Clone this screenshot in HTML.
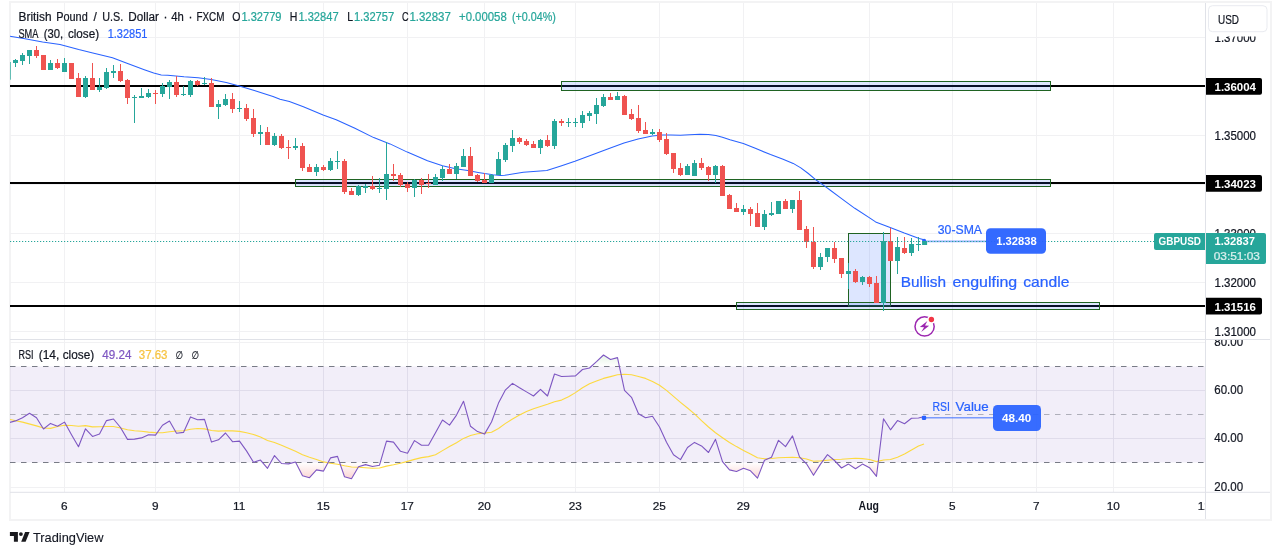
<!DOCTYPE html><html><head><meta charset="utf-8"><title>GBPUSD 4h chart</title><style>html,body{margin:0;padding:0;background:#fff}body{width:1281px;height:555px;overflow:hidden}svg{display:block}</style></head><body><svg width="1281" height="555" viewBox="0 0 1281 555" font-family='"Liberation Sans", Arial, sans-serif'>
<defs>
<clipPath id="cpMain"><rect x="10" y="3" width="1195" height="336"/></clipPath>
<clipPath id="cpRsi"><rect x="10" y="340" width="1195" height="152"/></clipPath>
<clipPath id="cpRsiAx"><rect x="1206" y="340" width="64" height="152"/></clipPath>
<clipPath id="cpTime"><rect x="10" y="493" width="1195" height="26"/></clipPath>
<linearGradient id="gOS" gradientUnits="userSpaceOnUse" x1="0" y1="462.5" x2="0" y2="482"><stop offset="0" stop-color="#ef5350" stop-opacity="0"/><stop offset="1" stop-color="#ef5350" stop-opacity="0.3"/></linearGradient>
<linearGradient id="gOB" gradientUnits="userSpaceOnUse" x1="0" y1="352" x2="0" y2="366.5"><stop offset="0" stop-color="#4caf50" stop-opacity="0.18"/><stop offset="1" stop-color="#4caf50" stop-opacity="0"/></linearGradient>
</defs>
<rect width="1281" height="555" fill="#fff"/>
<rect x="10" y="2" width="1261" height="518" fill="#fff" stroke="#f3f3f4" stroke-width="2"/>
<line x1="64.5" y1="3" x2="64.5" y2="492" stroke="#f1f1f3" stroke-width="1"/>
<line x1="155.5" y1="3" x2="155.5" y2="492" stroke="#f1f1f3" stroke-width="1"/>
<line x1="239.5" y1="3" x2="239.5" y2="492" stroke="#f1f1f3" stroke-width="1"/>
<line x1="323.5" y1="3" x2="323.5" y2="492" stroke="#f1f1f3" stroke-width="1"/>
<line x1="407.5" y1="3" x2="407.5" y2="492" stroke="#f1f1f3" stroke-width="1"/>
<line x1="484.5" y1="3" x2="484.5" y2="492" stroke="#f1f1f3" stroke-width="1"/>
<line x1="575.5" y1="3" x2="575.5" y2="492" stroke="#f1f1f3" stroke-width="1"/>
<line x1="659.5" y1="3" x2="659.5" y2="492" stroke="#f1f1f3" stroke-width="1"/>
<line x1="743.5" y1="3" x2="743.5" y2="492" stroke="#f1f1f3" stroke-width="1"/>
<line x1="869.5" y1="3" x2="869.5" y2="492" stroke="#f1f1f3" stroke-width="1"/>
<line x1="952.5" y1="3" x2="952.5" y2="492" stroke="#f1f1f3" stroke-width="1"/>
<line x1="1036.5" y1="3" x2="1036.5" y2="492" stroke="#f1f1f3" stroke-width="1"/>
<line x1="1113.5" y1="3" x2="1113.5" y2="492" stroke="#f1f1f3" stroke-width="1"/>
<line x1="10" y1="37.5" x2="1205" y2="37.5" stroke="#f1f1f3" stroke-width="1"/>
<line x1="10" y1="86.5" x2="1205" y2="86.5" stroke="#f1f1f3" stroke-width="1"/>
<line x1="10" y1="135.5" x2="1205" y2="135.5" stroke="#f1f1f3" stroke-width="1"/>
<line x1="10" y1="184.5" x2="1205" y2="184.5" stroke="#f1f1f3" stroke-width="1"/>
<line x1="10" y1="233.5" x2="1205" y2="233.5" stroke="#f1f1f3" stroke-width="1"/>
<line x1="10" y1="282.5" x2="1205" y2="282.5" stroke="#f1f1f3" stroke-width="1"/>
<line x1="10" y1="331.5" x2="1205" y2="331.5" stroke="#f1f1f3" stroke-width="1"/>
<line x1="10" y1="342.5" x2="1205" y2="342.5" stroke="#f1f1f3" stroke-width="1"/>
<line x1="10" y1="390.5" x2="1205" y2="390.5" stroke="#f1f1f3" stroke-width="1"/>
<line x1="10" y1="438.5" x2="1205" y2="438.5" stroke="#f1f1f3" stroke-width="1"/>
<line x1="10" y1="487.5" x2="1205" y2="487.5" stroke="#f1f1f3" stroke-width="1"/>
<g clip-path="url(#cpRsi)">
<rect x="10" y="366.5" width="1195" height="96.0" fill="#7e57c2" fill-opacity="0.1"/>
<line x1="64.5" y1="366.5" x2="64.5" y2="462.5" stroke="#d9d6e6" stroke-opacity="0.45" stroke-width="1"/>
<line x1="155.5" y1="366.5" x2="155.5" y2="462.5" stroke="#d9d6e6" stroke-opacity="0.45" stroke-width="1"/>
<line x1="239.5" y1="366.5" x2="239.5" y2="462.5" stroke="#d9d6e6" stroke-opacity="0.45" stroke-width="1"/>
<line x1="323.5" y1="366.5" x2="323.5" y2="462.5" stroke="#d9d6e6" stroke-opacity="0.45" stroke-width="1"/>
<line x1="407.5" y1="366.5" x2="407.5" y2="462.5" stroke="#d9d6e6" stroke-opacity="0.45" stroke-width="1"/>
<line x1="484.5" y1="366.5" x2="484.5" y2="462.5" stroke="#d9d6e6" stroke-opacity="0.45" stroke-width="1"/>
<line x1="575.5" y1="366.5" x2="575.5" y2="462.5" stroke="#d9d6e6" stroke-opacity="0.45" stroke-width="1"/>
<line x1="659.5" y1="366.5" x2="659.5" y2="462.5" stroke="#d9d6e6" stroke-opacity="0.45" stroke-width="1"/>
<line x1="743.5" y1="366.5" x2="743.5" y2="462.5" stroke="#d9d6e6" stroke-opacity="0.45" stroke-width="1"/>
<line x1="869.5" y1="366.5" x2="869.5" y2="462.5" stroke="#d9d6e6" stroke-opacity="0.45" stroke-width="1"/>
<line x1="952.5" y1="366.5" x2="952.5" y2="462.5" stroke="#d9d6e6" stroke-opacity="0.45" stroke-width="1"/>
<line x1="1036.5" y1="366.5" x2="1036.5" y2="462.5" stroke="#d9d6e6" stroke-opacity="0.45" stroke-width="1"/>
<line x1="1113.5" y1="366.5" x2="1113.5" y2="462.5" stroke="#d9d6e6" stroke-opacity="0.45" stroke-width="1"/>
<line x1="10" y1="390.5" x2="1205" y2="390.5" stroke="#d9d6e6" stroke-opacity="0.45" stroke-width="1"/>
<line x1="10" y1="438.5" x2="1205" y2="438.5" stroke="#d9d6e6" stroke-opacity="0.45" stroke-width="1"/>
<polygon points="262.5,462.5 267.5,468.3 270.7,462.5" fill="url(#gOS)"/>
<polygon points="280.6,462.5 281.5,463.5 288.5,463.9 293.7,462.5" fill="url(#gOS)"/>
<polygon points="295.8,462.5 302.5,475.8 309.5,477.7 316.5,469.9 323.5,471.1 328.1,462.5" fill="url(#gOS)"/>
<polygon points="339.6,462.5 344.5,476.8 351.5,478.7 358.5,466.7 365.5,464.6 372.5,466.5 379.5,465.2 380.3,462.5" fill="url(#gOS)"/>
<polygon points="723.2,462.5 729.5,469.9 736.5,471.5 743.5,468.3 750.5,470.8 757.5,478.1 763.6,462.5" fill="url(#gOS)"/>
<polygon points="805.2,462.5 806.5,463.8 813.5,475.3 820.5,464.1 821.7,462.5" fill="url(#gOS)"/>
<polygon points="836.4,462.5 841.5,468.0 848.5,464.1 855.5,468.8 862.5,464.1 869.5,467.7 876.5,476.3 878.2,462.5" fill="url(#gOS)"/>
<polygon points="591.2,366.5 596.5,361.7 603.5,355.0 610.5,359.5 617.5,357.6 619.4,366.5" fill="url(#gOB)"/>
<line x1="10" y1="366.5" x2="1205" y2="366.5" stroke="#787b86" stroke-width="1" stroke-dasharray="5.5 5.5"/>
<line x1="10" y1="414.5" x2="1205" y2="414.5" stroke="#787b86" stroke-opacity="0.55" stroke-width="1" stroke-dasharray="5.5 5.5"/>
<line x1="10" y1="462.5" x2="1205" y2="462.5" stroke="#787b86" stroke-width="1" stroke-dasharray="5.5 5.5"/>
<polyline fill="none" stroke="#fdd835" stroke-opacity="0.95" stroke-width="1.1" stroke-linejoin="round" points="8.5,419.2 22.5,422.1 36.5,425.9 43.5,428 50.5,428.4 57.5,426.5 64.5,425.3 71.5,425.5 78.5,426.3 85.5,425.6 92.5,426.9 99.5,426.8 106.5,426.5 113.5,426.5 120.5,428 127.5,429.7 134.5,430.7 141.5,431.3 148.5,432.1 155.5,432.6 162.5,432.8 169.5,431.8 176.5,431 183.5,430.8 190.5,429.2 197.5,428.5 204.5,428.9 211.5,430.5 218.5,431.1 225.5,430.8 232.5,430.9 239.5,431.4 246.5,432.7 253.5,434.5 260.5,437.1 267.5,440.5 274.5,442.5 281.5,445.3 288.5,448.2 295.5,451.3 302.5,454.7 309.5,457.2 316.5,459.4 323.5,461.9 330.5,463.3 337.5,464.2 344.5,465.8 351.5,467 358.5,467.3 365.5,467.7 372.5,468.3 379.5,468 386.5,466.1 393.5,464.8 400.5,463.3 407.5,461.4 414.5,459.4 421.5,457.6 428.5,456.6 435.5,454.7 442.5,450.6 449.5,446.6 456.5,442.7 463.5,438.4 470.5,435.5 477.5,433.8 484.5,433.1 491.5,432.2 498.5,428.5 505.5,423.4 512.5,419 519.5,415 526.5,411.4 533.5,408.7 540.5,406.4 547.5,404.2 554.5,401.7 561.5,400.1 568.5,396.7 575.5,392.6 582.5,387.8 589.5,383.8 596.5,380.9 603.5,378.4 610.5,376.6 617.5,374.8 624.5,374.3 631.5,374.8 638.5,376.5 645.5,378.4 652.5,381.5 659.5,385.3 666.5,390.4 673.5,396.4 680.5,402.3 687.5,408 694.5,413.8 701.5,420.7 708.5,427 715.5,432.7 722.5,437.7 729.5,442.5 736.5,446.6 743.5,450.4 750.5,454.1 757.5,457.7 764.5,458.8 771.5,458.5 778.5,457.7 785.5,457.5 792.5,457.3 799.5,457.8 806.5,459 813.5,461.2 820.5,460.9 827.5,460.2 834.5,459.5 841.5,459.3 848.5,458.7 855.5,458.3 862.5,458.6 869.5,459.5 876.5,461.6 883.5,460 890.5,459.5 897.5,457.2 904.5,454 911.5,450 918.5,446.1 924,443.9"/>
<polyline fill="none" stroke="#7e57c2" stroke-width="1.1" stroke-linejoin="round" points="8.5,422.7 15.5,420.9 22.5,417.7 29.5,413.3 36.5,417.7 43.5,429.0 50.5,423.4 57.5,426.3 64.5,422.1 71.5,434.7 78.5,446.7 85.5,428.8 92.5,436.4 99.5,434.1 106.5,420.6 113.5,419.0 120.5,427.5 127.5,439.4 134.5,439.1 141.5,437.9 148.5,434.7 155.5,435.1 162.5,425.2 169.5,421.0 176.5,433.3 183.5,432.4 190.5,416.9 197.5,419.8 204.5,419.4 211.5,442.1 218.5,439.8 225.5,433.0 232.5,441.7 239.5,441.1 246.5,450.9 253.5,462.3 260.5,460.1 267.5,468.3 274.5,455.6 281.5,463.5 288.5,463.9 295.5,462.0 302.5,475.8 309.5,477.7 316.5,469.9 323.5,471.1 330.5,457.9 337.5,456.4 344.5,476.8 351.5,478.7 358.5,466.7 365.5,464.6 372.5,466.5 379.5,465.2 386.5,441.1 393.5,442.1 400.5,451.3 407.5,453.2 414.5,440.6 421.5,445.3 428.5,445.3 435.5,432.7 442.5,420.0 449.5,425.1 456.5,415.1 463.5,401.2 470.5,426.3 477.5,431.6 484.5,434.1 491.5,422.0 498.5,403.1 505.5,389.8 512.5,383.4 519.5,387.8 526.5,391.9 533.5,396.0 540.5,389.3 547.5,396.0 554.5,374.0 561.5,376.5 568.5,376.2 575.5,375.9 582.5,369.5 589.5,368.0 596.5,361.7 603.5,355.0 610.5,359.5 617.5,357.6 624.5,390.4 631.5,397.3 638.5,413.7 645.5,417.7 652.5,416.3 659.5,427.0 666.5,442.2 673.5,454.8 680.5,459.6 687.5,447.5 694.5,442.4 701.5,445.9 708.5,452.5 715.5,439.3 722.5,461.7 729.5,469.9 736.5,471.5 743.5,468.3 750.5,470.8 757.5,478.1 764.5,460.2 771.5,457.3 778.5,440.3 785.5,446.6 792.5,435.9 799.5,456.8 806.5,463.8 813.5,475.3 820.5,464.1 827.5,454.7 834.5,460.5 841.5,468.0 848.5,464.1 855.5,468.8 862.5,464.1 869.5,467.7 876.5,476.3 883.5,418.7 890.5,429.8 897.5,420.6 904.5,423.7 911.5,418.3 918.5,418.0 925.5,416.3"/>
</g>
<g clip-path="url(#cpMain)">
<line x1="10" y1="86" x2="1206" y2="86" stroke="#000" stroke-width="2"/>
<line x1="10" y1="183" x2="1206" y2="183" stroke="#000" stroke-width="2"/>
<line x1="10" y1="306" x2="1206" y2="306" stroke="#000" stroke-width="2"/>
<rect x="848.5" y="233.5" width="42.0" height="72.5" fill="#2962ff" fill-opacity="0.16" stroke="#1f6322" stroke-width="1"/>
<rect x="561.5" y="81.5" width="489.0" height="9.0" fill="#2962ff" fill-opacity="0.16" stroke="#1f6322" stroke-width="1"/>
<rect x="295.5" y="179.5" width="755.0" height="7.0" fill="#2962ff" fill-opacity="0.16" stroke="#1f6322" stroke-width="1"/>
<rect x="736.5" y="302.5" width="363.0" height="7.0" fill="#2962ff" fill-opacity="0.16" stroke="#1f6322" stroke-width="1"/>
<polyline fill="none" stroke="#2962ff" stroke-width="1.05" stroke-linejoin="round" points="10,36.3 25,38.8 42.6,42.1 60,44.5 78.7,49.6 92.8,52.9 112.5,57.7 125.6,62.7 144.3,69.7 153.7,73 161.2,74.9 167.7,75.2 184,76.8 198.1,77.7 211.2,79.6 226.2,82.4 239.3,85.9 254.3,90.5 273,96.4 280,99.2 289.4,101.6 303.4,106.7 323.1,115.1 336.2,119.8 354.9,128.3 373.7,137.6 390,143.9 407.3,152.1 427.5,160.8 442.5,165.7 455.6,168.7 467.8,170.6 478.1,172.5 484.6,173.6 493,174.8 500.5,175.4 504.7,175.3 523.4,172.3 546.8,170.4 560.9,165.9 574.9,161.2 593.7,154.2 607.7,148.9 624,142.9 638.1,138.9 652.2,136.1 662.5,135 670.9,135.1 680.3,135.3 689.6,134.7 699.9,134.2 708.4,134.5 715.9,135.4 722.4,137.3 730,139.8 743.3,143.6 755.3,148.3 770.5,154.6 783.1,159.3 793.2,163.4 800.8,167.9 808.3,173.5 815.9,179.8 824.7,186.2 830,190 839.9,197.4 854.8,208.3 869.6,217.9 875.6,221.9 889.5,227.2 904.3,233.1 919.2,238.6 924,239.8"/>
<line x1="924" y1="241.3" x2="987" y2="241.3" stroke="#2962ff" stroke-opacity="0.5" stroke-width="1.8"/>
<circle cx="924.1" cy="240.9" r="2.1" fill="#2962ff"/>
<rect x="15.0" y="59.0" width="1" height="8.0" fill="#26a69a"/>
<rect x="13.0" y="60.0" width="5" height="3.0" fill="#26a69a"/>
<rect x="22.0" y="53.0" width="1" height="12.0" fill="#26a69a"/>
<rect x="20.0" y="55.0" width="5" height="6.0" fill="#26a69a"/>
<rect x="29.0" y="50.0" width="1" height="14.0" fill="#26a69a"/>
<rect x="27.0" y="50.0" width="5" height="6.0" fill="#26a69a"/>
<rect x="36.0" y="46.0" width="1" height="12.0" fill="#ef5350"/>
<rect x="34.0" y="50.0" width="5" height="6.0" fill="#ef5350"/>
<rect x="43.0" y="55.0" width="1" height="15.0" fill="#ef5350"/>
<rect x="41.0" y="55.0" width="5" height="15.0" fill="#ef5350"/>
<rect x="50.0" y="60.0" width="1" height="10.0" fill="#26a69a"/>
<rect x="48.0" y="63.0" width="5" height="7.0" fill="#26a69a"/>
<rect x="57.0" y="59.0" width="1" height="10.0" fill="#ef5350"/>
<rect x="55.0" y="63.0" width="5" height="5.0" fill="#ef5350"/>
<rect x="64.0" y="58.0" width="1" height="14.0" fill="#26a69a"/>
<rect x="62.0" y="63.0" width="5" height="9.0" fill="#26a69a"/>
<rect x="71.0" y="63.0" width="1" height="16.0" fill="#ef5350"/>
<rect x="69.0" y="63.0" width="5" height="16.0" fill="#ef5350"/>
<rect x="78.0" y="73.0" width="1" height="24.0" fill="#ef5350"/>
<rect x="76.0" y="78.0" width="5" height="19.0" fill="#ef5350"/>
<rect x="85.0" y="76.0" width="1" height="22.0" fill="#26a69a"/>
<rect x="83.0" y="78.0" width="5" height="19.0" fill="#26a69a"/>
<rect x="92.0" y="63.0" width="1" height="27.0" fill="#ef5350"/>
<rect x="90.0" y="78.0" width="5" height="12.0" fill="#ef5350"/>
<rect x="99.0" y="78.0" width="1" height="14.0" fill="#26a69a"/>
<rect x="97.0" y="87.0" width="5" height="3.0" fill="#26a69a"/>
<rect x="106.0" y="68.0" width="1" height="21.0" fill="#26a69a"/>
<rect x="104.0" y="72.0" width="5" height="16.0" fill="#26a69a"/>
<rect x="113.0" y="65.0" width="1" height="13.0" fill="#26a69a"/>
<rect x="111.0" y="71.0" width="5" height="2.0" fill="#26a69a"/>
<rect x="120.0" y="64.0" width="1" height="18.0" fill="#ef5350"/>
<rect x="118.0" y="71.0" width="5" height="10.0" fill="#ef5350"/>
<rect x="127.0" y="79.0" width="1" height="25.0" fill="#ef5350"/>
<rect x="125.0" y="80.0" width="5" height="18.0" fill="#ef5350"/>
<rect x="134.0" y="95.0" width="1" height="28.0" fill="#26a69a"/>
<rect x="132.0" y="97.0" width="5" height="1.0" fill="#26a69a"/>
<rect x="141.0" y="88.0" width="1" height="10.0" fill="#26a69a"/>
<rect x="139.0" y="96.0" width="5" height="2.0" fill="#26a69a"/>
<rect x="148.0" y="89.0" width="1" height="9.0" fill="#26a69a"/>
<rect x="146.0" y="93.0" width="5" height="4.0" fill="#26a69a"/>
<rect x="155.0" y="90.0" width="1" height="14.0" fill="#ef5350"/>
<rect x="153.0" y="93.0" width="5" height="1.0" fill="#ef5350"/>
<rect x="162.0" y="83.0" width="1" height="14.0" fill="#26a69a"/>
<rect x="160.0" y="86.0" width="5" height="8.0" fill="#26a69a"/>
<rect x="169.0" y="80.0" width="1" height="19.0" fill="#26a69a"/>
<rect x="167.0" y="82.0" width="5" height="5.0" fill="#26a69a"/>
<rect x="176.0" y="76.0" width="1" height="21.0" fill="#ef5350"/>
<rect x="174.0" y="82.0" width="5" height="13.0" fill="#ef5350"/>
<rect x="183.0" y="86.0" width="1" height="10.0" fill="#26a69a"/>
<rect x="181.0" y="94.0" width="5" height="1.0" fill="#26a69a"/>
<rect x="190.0" y="80.0" width="1" height="17.0" fill="#26a69a"/>
<rect x="188.0" y="81.0" width="5" height="14.0" fill="#26a69a"/>
<rect x="197.0" y="80.0" width="1" height="6.0" fill="#ef5350"/>
<rect x="195.0" y="81.0" width="5" height="4.0" fill="#ef5350"/>
<rect x="204.0" y="77.0" width="1" height="8.0" fill="#26a69a"/>
<rect x="202.0" y="83.0" width="5" height="1.0" fill="#26a69a"/>
<rect x="211.0" y="78.0" width="1" height="29.0" fill="#ef5350"/>
<rect x="209.0" y="83.0" width="5" height="24.0" fill="#ef5350"/>
<rect x="218.0" y="100.0" width="1" height="19.0" fill="#26a69a"/>
<rect x="216.0" y="104.0" width="5" height="3.0" fill="#26a69a"/>
<rect x="225.0" y="94.0" width="1" height="12.0" fill="#26a69a"/>
<rect x="223.0" y="99.0" width="5" height="6.0" fill="#26a69a"/>
<rect x="232.0" y="93.0" width="1" height="20.0" fill="#ef5350"/>
<rect x="230.0" y="99.0" width="5" height="10.0" fill="#ef5350"/>
<rect x="239.0" y="101.0" width="1" height="11.0" fill="#26a69a"/>
<rect x="237.0" y="108.0" width="5" height="1.0" fill="#26a69a"/>
<rect x="246.0" y="104.0" width="1" height="17.0" fill="#ef5350"/>
<rect x="244.0" y="108.0" width="5" height="11.0" fill="#ef5350"/>
<rect x="253.0" y="109.0" width="1" height="28.0" fill="#ef5350"/>
<rect x="251.0" y="118.0" width="5" height="16.0" fill="#ef5350"/>
<rect x="260.0" y="125.0" width="1" height="20.0" fill="#26a69a"/>
<rect x="258.0" y="132.0" width="5" height="2.0" fill="#26a69a"/>
<rect x="267.0" y="127.0" width="1" height="18.0" fill="#ef5350"/>
<rect x="265.0" y="132.0" width="5" height="13.0" fill="#ef5350"/>
<rect x="274.0" y="133.0" width="1" height="13.0" fill="#26a69a"/>
<rect x="272.0" y="136.0" width="5" height="9.0" fill="#26a69a"/>
<rect x="281.0" y="134.0" width="1" height="15.0" fill="#ef5350"/>
<rect x="279.0" y="136.0" width="5" height="12.0" fill="#ef5350"/>
<rect x="288.0" y="140.0" width="1" height="19.0" fill="#ef5350"/>
<rect x="286.0" y="147.0" width="5" height="1.0" fill="#ef5350"/>
<rect x="295.0" y="138.0" width="1" height="12.0" fill="#26a69a"/>
<rect x="293.0" y="146.0" width="5" height="2.0" fill="#26a69a"/>
<rect x="302.0" y="143.0" width="1" height="28.0" fill="#ef5350"/>
<rect x="300.0" y="146.0" width="5" height="22.0" fill="#ef5350"/>
<rect x="309.0" y="164.0" width="1" height="8.0" fill="#ef5350"/>
<rect x="307.0" y="167.0" width="5" height="5.0" fill="#ef5350"/>
<rect x="316.0" y="164.0" width="1" height="12.0" fill="#26a69a"/>
<rect x="314.0" y="167.0" width="5" height="5.0" fill="#26a69a"/>
<rect x="323.0" y="165.0" width="1" height="6.0" fill="#ef5350"/>
<rect x="321.0" y="167.0" width="5" height="3.0" fill="#ef5350"/>
<rect x="330.0" y="158.0" width="1" height="13.0" fill="#26a69a"/>
<rect x="328.0" y="161.0" width="5" height="9.0" fill="#26a69a"/>
<rect x="337.0" y="151.0" width="1" height="18.0" fill="#26a69a"/>
<rect x="335.0" y="161.0" width="5" height="1.0" fill="#26a69a"/>
<rect x="344.0" y="159.0" width="1" height="35.0" fill="#ef5350"/>
<rect x="342.0" y="161.0" width="5" height="31.0" fill="#ef5350"/>
<rect x="351.0" y="188.0" width="1" height="7.0" fill="#ef5350"/>
<rect x="349.0" y="191.0" width="5" height="4.0" fill="#ef5350"/>
<rect x="358.0" y="185.0" width="1" height="11.0" fill="#26a69a"/>
<rect x="356.0" y="186.0" width="5" height="9.0" fill="#26a69a"/>
<rect x="365.0" y="184.0" width="1" height="9.0" fill="#26a69a"/>
<rect x="363.0" y="186.0" width="5" height="2.0" fill="#26a69a"/>
<rect x="372.0" y="176.0" width="1" height="14.0" fill="#ef5350"/>
<rect x="370.0" y="186.0" width="5" height="3.0" fill="#ef5350"/>
<rect x="379.0" y="178.0" width="1" height="15.0" fill="#26a69a"/>
<rect x="377.0" y="188.0" width="5" height="1.0" fill="#26a69a"/>
<rect x="386.0" y="142.0" width="1" height="58.0" fill="#26a69a"/>
<rect x="384.0" y="174.0" width="5" height="15.0" fill="#26a69a"/>
<rect x="393.0" y="164.0" width="1" height="17.0" fill="#ef5350"/>
<rect x="391.0" y="174.0" width="5" height="2.0" fill="#ef5350"/>
<rect x="400.0" y="173.0" width="1" height="14.0" fill="#ef5350"/>
<rect x="398.0" y="175.0" width="5" height="10.0" fill="#ef5350"/>
<rect x="407.0" y="182.0" width="1" height="10.0" fill="#ef5350"/>
<rect x="405.0" y="184.0" width="5" height="4.0" fill="#ef5350"/>
<rect x="414.0" y="179.0" width="1" height="18.0" fill="#26a69a"/>
<rect x="412.0" y="180.0" width="5" height="8.0" fill="#26a69a"/>
<rect x="421.0" y="178.0" width="1" height="16.0" fill="#ef5350"/>
<rect x="419.0" y="180.0" width="5" height="5.0" fill="#ef5350"/>
<rect x="428.0" y="174.0" width="1" height="14.0" fill="#ef5350"/>
<rect x="426.0" y="183.0" width="5" height="1.0" fill="#ef5350"/>
<rect x="435.0" y="174.0" width="1" height="11.0" fill="#26a69a"/>
<rect x="433.0" y="177.0" width="5" height="8.0" fill="#26a69a"/>
<rect x="442.0" y="166.0" width="1" height="15.0" fill="#26a69a"/>
<rect x="440.0" y="169.0" width="5" height="9.0" fill="#26a69a"/>
<rect x="449.0" y="164.0" width="1" height="10.0" fill="#ef5350"/>
<rect x="447.0" y="169.0" width="5" height="5.0" fill="#ef5350"/>
<rect x="456.0" y="163.0" width="1" height="16.0" fill="#26a69a"/>
<rect x="454.0" y="166.0" width="5" height="8.0" fill="#26a69a"/>
<rect x="463.0" y="149.0" width="1" height="18.0" fill="#26a69a"/>
<rect x="461.0" y="156.0" width="5" height="11.0" fill="#26a69a"/>
<rect x="470.0" y="147.0" width="1" height="29.0" fill="#ef5350"/>
<rect x="468.0" y="156.0" width="5" height="20.0" fill="#ef5350"/>
<rect x="477.0" y="174.0" width="1" height="8.0" fill="#ef5350"/>
<rect x="475.0" y="175.0" width="5" height="6.0" fill="#ef5350"/>
<rect x="484.0" y="173.0" width="1" height="10.0" fill="#ef5350"/>
<rect x="482.0" y="180.0" width="5" height="3.0" fill="#ef5350"/>
<rect x="491.0" y="174.0" width="1" height="9.0" fill="#26a69a"/>
<rect x="489.0" y="175.0" width="5" height="8.0" fill="#26a69a"/>
<rect x="498.0" y="152.0" width="1" height="23.0" fill="#26a69a"/>
<rect x="496.0" y="159.0" width="5" height="16.0" fill="#26a69a"/>
<rect x="505.0" y="143.0" width="1" height="19.0" fill="#26a69a"/>
<rect x="503.0" y="145.0" width="5" height="15.0" fill="#26a69a"/>
<rect x="512.0" y="130.0" width="1" height="22.0" fill="#26a69a"/>
<rect x="510.0" y="138.0" width="5" height="8.0" fill="#26a69a"/>
<rect x="519.0" y="137.0" width="1" height="7.0" fill="#ef5350"/>
<rect x="517.0" y="138.0" width="5" height="4.0" fill="#ef5350"/>
<rect x="526.0" y="139.0" width="1" height="7.0" fill="#ef5350"/>
<rect x="524.0" y="141.0" width="5" height="4.0" fill="#ef5350"/>
<rect x="533.0" y="141.0" width="1" height="7.0" fill="#ef5350"/>
<rect x="531.0" y="144.0" width="5" height="4.0" fill="#ef5350"/>
<rect x="540.0" y="139.0" width="1" height="15.0" fill="#26a69a"/>
<rect x="538.0" y="140.0" width="5" height="8.0" fill="#26a69a"/>
<rect x="547.0" y="135.0" width="1" height="12.0" fill="#ef5350"/>
<rect x="545.0" y="140.0" width="5" height="6.0" fill="#ef5350"/>
<rect x="554.0" y="119.0" width="1" height="30.0" fill="#26a69a"/>
<rect x="552.0" y="121.0" width="5" height="25.0" fill="#26a69a"/>
<rect x="561.0" y="119.0" width="1" height="7.0" fill="#ef5350"/>
<rect x="559.0" y="121.0" width="5" height="2.0" fill="#ef5350"/>
<rect x="568.0" y="118.0" width="1" height="9.0" fill="#26a69a"/>
<rect x="566.0" y="122.0" width="5" height="1.0" fill="#26a69a"/>
<rect x="575.0" y="118.0" width="1" height="9.0" fill="#26a69a"/>
<rect x="573.0" y="122.0" width="5" height="1.0" fill="#26a69a"/>
<rect x="582.0" y="111.0" width="1" height="17.0" fill="#26a69a"/>
<rect x="580.0" y="115.0" width="5" height="8.0" fill="#26a69a"/>
<rect x="589.0" y="111.0" width="1" height="10.0" fill="#26a69a"/>
<rect x="587.0" y="113.0" width="5" height="3.0" fill="#26a69a"/>
<rect x="596.0" y="98.0" width="1" height="26.0" fill="#26a69a"/>
<rect x="594.0" y="105.0" width="5" height="9.0" fill="#26a69a"/>
<rect x="603.0" y="94.0" width="1" height="13.0" fill="#26a69a"/>
<rect x="601.0" y="97.0" width="5" height="9.0" fill="#26a69a"/>
<rect x="610.0" y="93.0" width="1" height="7.0" fill="#ef5350"/>
<rect x="608.0" y="97.0" width="5" height="3.0" fill="#ef5350"/>
<rect x="617.0" y="92.0" width="1" height="8.0" fill="#26a69a"/>
<rect x="615.0" y="96.0" width="5" height="4.0" fill="#26a69a"/>
<rect x="624.0" y="95.0" width="1" height="20.0" fill="#ef5350"/>
<rect x="622.0" y="96.0" width="5" height="19.0" fill="#ef5350"/>
<rect x="631.0" y="109.0" width="1" height="11.0" fill="#ef5350"/>
<rect x="629.0" y="114.0" width="5" height="5.0" fill="#ef5350"/>
<rect x="638.0" y="105.0" width="1" height="28.0" fill="#ef5350"/>
<rect x="636.0" y="118.0" width="5" height="13.0" fill="#ef5350"/>
<rect x="645.0" y="122.0" width="1" height="12.0" fill="#ef5350"/>
<rect x="643.0" y="130.0" width="5" height="4.0" fill="#ef5350"/>
<rect x="652.0" y="129.0" width="1" height="6.0" fill="#26a69a"/>
<rect x="650.0" y="132.0" width="5" height="2.0" fill="#26a69a"/>
<rect x="659.0" y="129.0" width="1" height="13.0" fill="#ef5350"/>
<rect x="657.0" y="132.0" width="5" height="8.0" fill="#ef5350"/>
<rect x="666.0" y="133.0" width="1" height="22.0" fill="#ef5350"/>
<rect x="664.0" y="139.0" width="5" height="15.0" fill="#ef5350"/>
<rect x="673.0" y="153.0" width="1" height="20.0" fill="#ef5350"/>
<rect x="671.0" y="153.0" width="5" height="16.0" fill="#ef5350"/>
<rect x="680.0" y="163.0" width="1" height="13.0" fill="#ef5350"/>
<rect x="678.0" y="168.0" width="5" height="7.0" fill="#ef5350"/>
<rect x="687.0" y="164.0" width="1" height="11.0" fill="#26a69a"/>
<rect x="685.0" y="166.0" width="5" height="9.0" fill="#26a69a"/>
<rect x="694.0" y="160.0" width="1" height="16.0" fill="#26a69a"/>
<rect x="692.0" y="163.0" width="5" height="13.0" fill="#26a69a"/>
<rect x="701.0" y="158.0" width="1" height="12.0" fill="#ef5350"/>
<rect x="699.0" y="163.0" width="5" height="5.0" fill="#ef5350"/>
<rect x="708.0" y="166.0" width="1" height="15.0" fill="#ef5350"/>
<rect x="706.0" y="167.0" width="5" height="8.0" fill="#ef5350"/>
<rect x="715.0" y="165.0" width="1" height="18.0" fill="#26a69a"/>
<rect x="713.0" y="166.0" width="5" height="9.0" fill="#26a69a"/>
<rect x="722.0" y="165.0" width="1" height="31.0" fill="#ef5350"/>
<rect x="720.0" y="166.0" width="5" height="30.0" fill="#ef5350"/>
<rect x="729.0" y="194.0" width="1" height="15.0" fill="#ef5350"/>
<rect x="727.0" y="195.0" width="5" height="14.0" fill="#ef5350"/>
<rect x="736.0" y="203.0" width="1" height="9.0" fill="#ef5350"/>
<rect x="734.0" y="208.0" width="5" height="4.0" fill="#ef5350"/>
<rect x="743.0" y="205.0" width="1" height="10.0" fill="#26a69a"/>
<rect x="741.0" y="209.0" width="5" height="3.0" fill="#26a69a"/>
<rect x="750.0" y="207.0" width="1" height="19.0" fill="#ef5350"/>
<rect x="748.0" y="209.0" width="5" height="5.0" fill="#ef5350"/>
<rect x="757.0" y="203.0" width="1" height="24.0" fill="#ef5350"/>
<rect x="755.0" y="213.0" width="5" height="14.0" fill="#ef5350"/>
<rect x="764.0" y="210.0" width="1" height="20.0" fill="#26a69a"/>
<rect x="762.0" y="214.0" width="5" height="13.0" fill="#26a69a"/>
<rect x="771.0" y="202.0" width="1" height="14.0" fill="#26a69a"/>
<rect x="769.0" y="213.0" width="5" height="2.0" fill="#26a69a"/>
<rect x="778.0" y="201.0" width="1" height="13.0" fill="#26a69a"/>
<rect x="776.0" y="201.0" width="5" height="13.0" fill="#26a69a"/>
<rect x="785.0" y="199.0" width="1" height="10.0" fill="#ef5350"/>
<rect x="783.0" y="201.0" width="5" height="8.0" fill="#ef5350"/>
<rect x="792.0" y="200.0" width="1" height="13.0" fill="#26a69a"/>
<rect x="790.0" y="200.0" width="5" height="9.0" fill="#26a69a"/>
<rect x="799.0" y="191.0" width="1" height="39.0" fill="#ef5350"/>
<rect x="797.0" y="200.0" width="5" height="30.0" fill="#ef5350"/>
<rect x="806.0" y="226.0" width="1" height="22.0" fill="#ef5350"/>
<rect x="804.0" y="229.0" width="5" height="13.0" fill="#ef5350"/>
<rect x="813.0" y="227.0" width="1" height="42.0" fill="#ef5350"/>
<rect x="811.0" y="242.0" width="5" height="25.0" fill="#ef5350"/>
<rect x="820.0" y="253.0" width="1" height="17.0" fill="#26a69a"/>
<rect x="818.0" y="257.0" width="5" height="10.0" fill="#26a69a"/>
<rect x="827.0" y="248.0" width="1" height="14.0" fill="#26a69a"/>
<rect x="825.0" y="248.0" width="5" height="9.0" fill="#26a69a"/>
<rect x="834.0" y="242.0" width="1" height="21.0" fill="#ef5350"/>
<rect x="832.0" y="248.0" width="5" height="11.0" fill="#ef5350"/>
<rect x="841.0" y="258.0" width="1" height="20.0" fill="#ef5350"/>
<rect x="839.0" y="258.0" width="5" height="16.0" fill="#ef5350"/>
<rect x="848.0" y="263.0" width="1" height="26.0" fill="#26a69a"/>
<rect x="846.0" y="271.0" width="5" height="3.0" fill="#26a69a"/>
<rect x="855.0" y="269.0" width="1" height="14.0" fill="#ef5350"/>
<rect x="853.0" y="271.0" width="5" height="11.0" fill="#ef5350"/>
<rect x="862.0" y="276.0" width="1" height="9.0" fill="#26a69a"/>
<rect x="860.0" y="277.0" width="5" height="5.0" fill="#26a69a"/>
<rect x="869.0" y="276.0" width="1" height="11.0" fill="#ef5350"/>
<rect x="867.0" y="277.0" width="5" height="7.0" fill="#ef5350"/>
<rect x="876.0" y="276.0" width="1" height="27.0" fill="#ef5350"/>
<rect x="874.0" y="283.0" width="5" height="20.0" fill="#ef5350"/>
<rect x="883.0" y="232.0" width="1" height="79.0" fill="#26a69a"/>
<rect x="881.0" y="241.0" width="5" height="62.0" fill="#26a69a"/>
<rect x="890.0" y="228.0" width="1" height="33.0" fill="#ef5350"/>
<rect x="888.0" y="241.0" width="5" height="20.0" fill="#ef5350"/>
<rect x="897.0" y="237.0" width="1" height="37.0" fill="#26a69a"/>
<rect x="895.0" y="247.0" width="5" height="14.0" fill="#26a69a"/>
<rect x="904.0" y="237.0" width="1" height="17.0" fill="#ef5350"/>
<rect x="902.0" y="248.0" width="5" height="5.0" fill="#ef5350"/>
<rect x="911.0" y="238.0" width="1" height="18.0" fill="#26a69a"/>
<rect x="909.0" y="244.0" width="5" height="9.0" fill="#26a69a"/>
<rect x="918.0" y="237.0" width="1" height="14.0" fill="#26a69a"/>
<rect x="916.0" y="244.0" width="5" height="1.0" fill="#26a69a"/>
<rect x="924.1" y="241.0" width="1" height="4.0" fill="#26a69a"/>
<rect x="922.1" y="241.0" width="5" height="4.0" fill="#26a69a"/>
<rect x="10" y="62" width="1" height="17.7" fill="#26a69a" fill-opacity="0.7"/>
<line x1="10" y1="241.5" x2="1205" y2="241.5" stroke="#26a69a" stroke-width="1.2" stroke-dasharray="1.2 1.8"/>
<rect x="986" y="228.2" width="60" height="25.6" rx="4.5" fill="#2962ff" fill-opacity="0.95"/>
<text x="996.2" y="244.8" font-size="11.5" fill="#fff" font-weight="700" text-anchor="start" textLength="40.5" lengthAdjust="spacingAndGlyphs">1.32838</text>
<text x="937.8" y="234" font-size="13.2" fill="#2962ff" font-weight="400" text-anchor="start" textLength="44.2" lengthAdjust="spacingAndGlyphs" stroke="#2962ff" stroke-width="0.22">30-SMA</text>
<text x="900.8" y="286.7" font-size="15" fill="#2962ff" font-weight="400" text-anchor="start" textLength="45.3" lengthAdjust="spacingAndGlyphs" stroke="#2962ff" stroke-width="0.22">Bullish</text>
<text x="952.4" y="286.7" font-size="15" fill="#2962ff" font-weight="400" text-anchor="start" textLength="64.8" lengthAdjust="spacingAndGlyphs" stroke="#2962ff" stroke-width="0.22">engulfing</text>
<text x="1023.2" y="286.7" font-size="15" fill="#2962ff" font-weight="400" text-anchor="start" textLength="46.2" lengthAdjust="spacingAndGlyphs" stroke="#2962ff" stroke-width="0.22">candle</text>
<g transform="translate(924.6 326.4)">
<circle r="11.5" fill="#fff"/>
<circle r="9.6" fill="none" stroke="#9c27b0" stroke-width="1.5"/>
<path d="M2.8 -5.5 L-4.8 0.7 L-0.5 0.9 L-3.4 5.7 L4.5 -0.6 L0.4 -0.9 Z" fill="#9c27b0"/>
<circle cx="6.8" cy="-6.9" r="4.2" fill="#fff"/>
<circle cx="6.8" cy="-6.9" r="2.7" fill="#f23645"/>
</g>
</g>
<line x1="926" y1="417.8" x2="994" y2="417.8" stroke="#2962ff" stroke-opacity="0.6" stroke-width="1.6"/>
<rect x="921.8" y="415.7" width="4.4" height="4.4" rx="1.4" fill="#2962ff"/>
<rect x="993" y="405" width="48" height="26" rx="4.5" fill="#2962ff" fill-opacity="0.93"/>
<text x="1002.1" y="421.9" font-size="11.5" fill="#fff" font-weight="700" text-anchor="start" textLength="29.2" lengthAdjust="spacingAndGlyphs">48.40</text>
<text x="932.5" y="410.6" font-size="13.2" fill="#2962ff" font-weight="400" text-anchor="start" textLength="17.5" lengthAdjust="spacingAndGlyphs" stroke="#2962ff" stroke-width="0.22">RSI</text>
<text x="955.6" y="410.6" font-size="13.2" fill="#2962ff" font-weight="400" text-anchor="start" textLength="33.1" lengthAdjust="spacingAndGlyphs" stroke="#2962ff" stroke-width="0.22">Value</text>
<text x="18.5" y="21" font-size="12" fill="#131722" font-weight="400" text-anchor="start" textLength="33.0" lengthAdjust="spacingAndGlyphs" stroke="#131722" stroke-width="0.22">British</text>
<text x="56.2" y="21" font-size="12" fill="#131722" font-weight="400" text-anchor="start" textLength="31.5" lengthAdjust="spacingAndGlyphs" stroke="#131722" stroke-width="0.22">Pound</text>
<text x="93.6" y="21" font-size="12" fill="#131722" font-weight="400" text-anchor="start" stroke="#131722" stroke-width="0.22">/</text>
<text x="102.3" y="21" font-size="12" fill="#131722" font-weight="400" text-anchor="start" textLength="21.0" lengthAdjust="spacingAndGlyphs" stroke="#131722" stroke-width="0.22">U.S.</text>
<text x="128.3" y="21" font-size="12" fill="#131722" font-weight="400" text-anchor="start" textLength="30.6" lengthAdjust="spacingAndGlyphs" stroke="#131722" stroke-width="0.22">Dollar</text>
<text x="163.6" y="21" font-size="12" fill="#131722" font-weight="400" text-anchor="start" stroke="#131722" stroke-width="0.22">·</text>
<text x="171.3" y="21" font-size="12" fill="#131722" font-weight="400" text-anchor="start" textLength="12.6" lengthAdjust="spacingAndGlyphs" stroke="#131722" stroke-width="0.22">4h</text>
<text x="188.6" y="21" font-size="12" fill="#131722" font-weight="400" text-anchor="start" stroke="#131722" stroke-width="0.22">·</text>
<text x="196.4" y="21" font-size="12" fill="#131722" font-weight="400" text-anchor="start" textLength="28.1" lengthAdjust="spacingAndGlyphs" stroke="#131722" stroke-width="0.22">FXCM</text>
<text x="232.3" y="21" font-size="12" fill="#131722" font-weight="400" text-anchor="start" textLength="8.2" lengthAdjust="spacingAndGlyphs" stroke="#131722" stroke-width="0.22">O</text>
<text x="241.4" y="21" font-size="12" fill="#26a69a" font-weight="400" text-anchor="start" textLength="40.1" lengthAdjust="spacingAndGlyphs" stroke="#26a69a" stroke-width="0.22">1.32779</text>
<text x="289.8" y="21" font-size="12" fill="#131722" font-weight="400" text-anchor="start" textLength="7.6" lengthAdjust="spacingAndGlyphs" stroke="#131722" stroke-width="0.22">H</text>
<text x="298.4" y="21" font-size="12" fill="#26a69a" font-weight="400" text-anchor="start" textLength="40.2" lengthAdjust="spacingAndGlyphs" stroke="#26a69a" stroke-width="0.22">1.32847</text>
<text x="347.2" y="21" font-size="12" fill="#131722" font-weight="400" text-anchor="start" textLength="5.8" lengthAdjust="spacingAndGlyphs" stroke="#131722" stroke-width="0.22">L</text>
<text x="353.9" y="21" font-size="12" fill="#26a69a" font-weight="400" text-anchor="start" textLength="40.3" lengthAdjust="spacingAndGlyphs" stroke="#26a69a" stroke-width="0.22">1.32757</text>
<text x="402" y="21" font-size="12" fill="#131722" font-weight="400" text-anchor="start" textLength="6.6" lengthAdjust="spacingAndGlyphs" stroke="#131722" stroke-width="0.22">C</text>
<text x="409.4" y="21" font-size="12" fill="#26a69a" font-weight="400" text-anchor="start" textLength="41.4" lengthAdjust="spacingAndGlyphs" stroke="#26a69a" stroke-width="0.22">1.32837</text>
<text x="459" y="21" font-size="12" fill="#26a69a" font-weight="400" text-anchor="start" textLength="47.7" lengthAdjust="spacingAndGlyphs" stroke="#26a69a" stroke-width="0.22">+0.00058</text>
<text x="511.9" y="21" font-size="12" fill="#26a69a" font-weight="400" text-anchor="start" textLength="44.0" lengthAdjust="spacingAndGlyphs" stroke="#26a69a" stroke-width="0.22">(+0.04%)</text>
<text x="18.4" y="38" font-size="12" fill="#131722" font-weight="400" text-anchor="start" textLength="19.9" lengthAdjust="spacingAndGlyphs" stroke="#131722" stroke-width="0.22">SMA</text>
<text x="43.7" y="38" font-size="12" fill="#131722" font-weight="400" text-anchor="start" textLength="19.5" lengthAdjust="spacingAndGlyphs" stroke="#131722" stroke-width="0.22">(30,</text>
<text x="67.9" y="38" font-size="12" fill="#131722" font-weight="400" text-anchor="start" textLength="31.2" lengthAdjust="spacingAndGlyphs" stroke="#131722" stroke-width="0.22">close)</text>
<text x="107.7" y="38" font-size="12" fill="#2962ff" font-weight="400" text-anchor="start" textLength="39.8" lengthAdjust="spacingAndGlyphs" stroke="#2962ff" stroke-width="0.22">1.32851</text>
<text x="18.4" y="359" font-size="12" fill="#131722" font-weight="400" text-anchor="start" textLength="15.1" lengthAdjust="spacingAndGlyphs" stroke="#131722" stroke-width="0.22">RSI</text>
<text x="38.7" y="359" font-size="12" fill="#131722" font-weight="400" text-anchor="start" textLength="20.6" lengthAdjust="spacingAndGlyphs" stroke="#131722" stroke-width="0.22">(14,</text>
<text x="62.7" y="359" font-size="12" fill="#131722" font-weight="400" text-anchor="start" textLength="31.5" lengthAdjust="spacingAndGlyphs" stroke="#131722" stroke-width="0.22">close)</text>
<text x="102.2" y="359" font-size="12" fill="#7e57c2" font-weight="400" text-anchor="start" textLength="29.2" lengthAdjust="spacingAndGlyphs" stroke="#7e57c2" stroke-width="0.22">49.24</text>
<text x="138.8" y="359" font-size="12" fill="#f7c443" font-weight="400" text-anchor="start" textLength="28.7" lengthAdjust="spacingAndGlyphs" stroke="#f7c443" stroke-width="0.22">37.63</text>
<text x="175.4" y="359" font-size="11" fill="#131722" font-weight="400" text-anchor="start" textLength="7.4" lengthAdjust="spacingAndGlyphs" stroke="#131722" stroke-width="0.22" font-family="DejaVu Sans, sans-serif">∅</text>
<text x="191.4" y="359" font-size="11" fill="#131722" font-weight="400" text-anchor="start" textLength="7.4" lengthAdjust="spacingAndGlyphs" stroke="#131722" stroke-width="0.22" font-family="DejaVu Sans, sans-serif">∅</text>
<line x1="1205.5" y1="3" x2="1205.5" y2="519" stroke="#e0e2e8" stroke-width="1"/>
<line x1="10" y1="339.5" x2="1270" y2="339.5" stroke="#e0e2e8" stroke-width="1"/>
<line x1="10" y1="492.3" x2="1270" y2="492.3" stroke="#e0e2e8" stroke-width="1"/>
<text x="1214.5" y="41.8" font-size="12" fill="#131722" font-weight="400" text-anchor="start" textLength="41.5" lengthAdjust="spacingAndGlyphs" stroke="#131722" stroke-width="0.22">1.37000</text>
<text x="1214.5" y="139.8" font-size="12" fill="#131722" font-weight="400" text-anchor="start" textLength="41.5" lengthAdjust="spacingAndGlyphs" stroke="#131722" stroke-width="0.22">1.35000</text>
<text x="1214.5" y="237.8" font-size="12" fill="#131722" font-weight="400" text-anchor="start" textLength="41.5" lengthAdjust="spacingAndGlyphs" stroke="#131722" stroke-width="0.22">1.33000</text>
<text x="1214.5" y="286.8" font-size="12" fill="#131722" font-weight="400" text-anchor="start" textLength="41.5" lengthAdjust="spacingAndGlyphs" stroke="#131722" stroke-width="0.22">1.32000</text>
<text x="1214.5" y="335.8" font-size="12" fill="#131722" font-weight="400" text-anchor="start" textLength="41.5" lengthAdjust="spacingAndGlyphs" stroke="#131722" stroke-width="0.22">1.31000</text>
<g clip-path="url(#cpRsiAx)">
<text x="1214.3" y="346.0" font-size="12" fill="#131722" font-weight="400" text-anchor="start" textLength="28.8" lengthAdjust="spacingAndGlyphs" stroke="#131722" stroke-width="0.22">80.00</text>
<text x="1214.3" y="394.4" font-size="12" fill="#131722" font-weight="400" text-anchor="start" textLength="28.8" lengthAdjust="spacingAndGlyphs" stroke="#131722" stroke-width="0.22">60.00</text>
<text x="1214.3" y="442.4" font-size="12" fill="#131722" font-weight="400" text-anchor="start" textLength="28.8" lengthAdjust="spacingAndGlyphs" stroke="#131722" stroke-width="0.22">40.00</text>
<text x="1214.3" y="491.4" font-size="12" fill="#131722" font-weight="400" text-anchor="start" textLength="28.8" lengthAdjust="spacingAndGlyphs" stroke="#131722" stroke-width="0.22">20.00</text>
</g>
<rect x="1206" y="3" width="64" height="33.5" fill="#fff"/>
<rect x="1208.5" y="5.7" width="58.5" height="26" rx="4" fill="#fff" stroke="#e9ebf0" stroke-width="1"/>
<text x="1218" y="24" font-size="12.3" fill="#131722" font-weight="400" text-anchor="start" textLength="21" lengthAdjust="spacingAndGlyphs" stroke="#131722" stroke-width="0.22">USD</text>
<path d="M1206 77.9 H1260 a2 2 0 0 1 2 2 V92.7 a2 2 0 0 1 -2 2 H1206 Z" fill="#000"/>
<text x="1214.5" y="90.6" font-size="11.6" fill="#fff" font-weight="700" text-anchor="start" textLength="41.5" lengthAdjust="spacingAndGlyphs">1.36004</text>
<path d="M1206 175.0 H1260 a2 2 0 0 1 2 2 V189.8 a2 2 0 0 1 -2 2 H1206 Z" fill="#000"/>
<text x="1214.5" y="187.7" font-size="11.6" fill="#fff" font-weight="700" text-anchor="start" textLength="41.5" lengthAdjust="spacingAndGlyphs">1.34023</text>
<path d="M1206 297.8 H1260 a2 2 0 0 1 2 2 V312.6 a2 2 0 0 1 -2 2 H1206 Z" fill="#000"/>
<text x="1214.5" y="310.5" font-size="11.6" fill="#fff" font-weight="700" text-anchor="start" textLength="41.5" lengthAdjust="spacingAndGlyphs">1.31516</text>
<path d="M1156 233 H1205 V250 H1156 a2 2 0 0 1 -2 -2 V235 a2 2 0 0 1 2 -2 Z" fill="#26a69a"/>
<text x="1158.6" y="245.4" font-size="11.6" fill="#fff" font-weight="700" text-anchor="start" textLength="42.4" lengthAdjust="spacingAndGlyphs">GBPUSD</text>
<path d="M1206 233 H1264 a2 2 0 0 1 2 2 V262 a2 2 0 0 1 -2 2 H1206 Z" fill="#26a69a"/>
<text x="1214.5" y="245.4" font-size="11.6" fill="#fff" font-weight="700" text-anchor="start" textLength="40.5" lengthAdjust="spacingAndGlyphs">1.32837</text>
<text x="1213.7" y="259.8" font-size="11.6" fill="#fff" font-weight="400" text-anchor="start" textLength="46.3" lengthAdjust="spacingAndGlyphs" stroke="#fff" stroke-width="0.22" fill-opacity="0.75">03:51:03</text>
<g clip-path="url(#cpTime)">
<text x="64.2" y="510.1" font-size="11.8" fill="#131722" font-weight="400" text-anchor="middle" stroke="#131722" stroke-width="0.22">6</text>
<text x="155.2" y="510.1" font-size="11.8" fill="#131722" font-weight="400" text-anchor="middle" stroke="#131722" stroke-width="0.22">9</text>
<text x="239.2" y="510.1" font-size="11.8" fill="#131722" font-weight="400" text-anchor="middle" stroke="#131722" stroke-width="0.22">11</text>
<text x="323.2" y="510.1" font-size="11.8" fill="#131722" font-weight="400" text-anchor="middle" stroke="#131722" stroke-width="0.22">15</text>
<text x="407.2" y="510.1" font-size="11.8" fill="#131722" font-weight="400" text-anchor="middle" stroke="#131722" stroke-width="0.22">17</text>
<text x="484.2" y="510.1" font-size="11.8" fill="#131722" font-weight="400" text-anchor="middle" stroke="#131722" stroke-width="0.22">20</text>
<text x="575.2" y="510.1" font-size="11.8" fill="#131722" font-weight="400" text-anchor="middle" stroke="#131722" stroke-width="0.22">23</text>
<text x="659.2" y="510.1" font-size="11.8" fill="#131722" font-weight="400" text-anchor="middle" stroke="#131722" stroke-width="0.22">25</text>
<text x="743.2" y="510.1" font-size="11.8" fill="#131722" font-weight="400" text-anchor="middle" stroke="#131722" stroke-width="0.22">29</text>
<text x="868.8" y="510.1" font-size="12" fill="#131722" font-weight="700" text-anchor="middle" textLength="20.4" lengthAdjust="spacingAndGlyphs">Aug</text>
<text x="952.2" y="510.1" font-size="11.8" fill="#131722" font-weight="400" text-anchor="middle" stroke="#131722" stroke-width="0.22">5</text>
<text x="1036.2" y="510.1" font-size="11.8" fill="#131722" font-weight="400" text-anchor="middle" stroke="#131722" stroke-width="0.22">7</text>
<text x="1113.2" y="510.1" font-size="11.8" fill="#131722" font-weight="400" text-anchor="middle" stroke="#131722" stroke-width="0.22">10</text>
<text x="1204.2" y="510.1" font-size="11.8" fill="#131722" font-weight="400" text-anchor="middle" stroke="#131722" stroke-width="0.22">12</text>
</g>
<g fill="#1a1a1e">
<path d="M9.9 532 H17.9 V541.8 H13.9 V536 H9.9 z"/>
<circle cx="20.9" cy="534.1" r="1.9"/>
<path d="M25.1 532 H29.6 L25.6 541.8 H21.2 z"/>
</g>
<text x="33.0" y="541.8" font-size="12.6" fill="#131722" font-weight="400" text-anchor="start" textLength="70.4" lengthAdjust="spacingAndGlyphs" stroke="#131722" stroke-width="0.12">TradingView</text>
</svg></body></html>
